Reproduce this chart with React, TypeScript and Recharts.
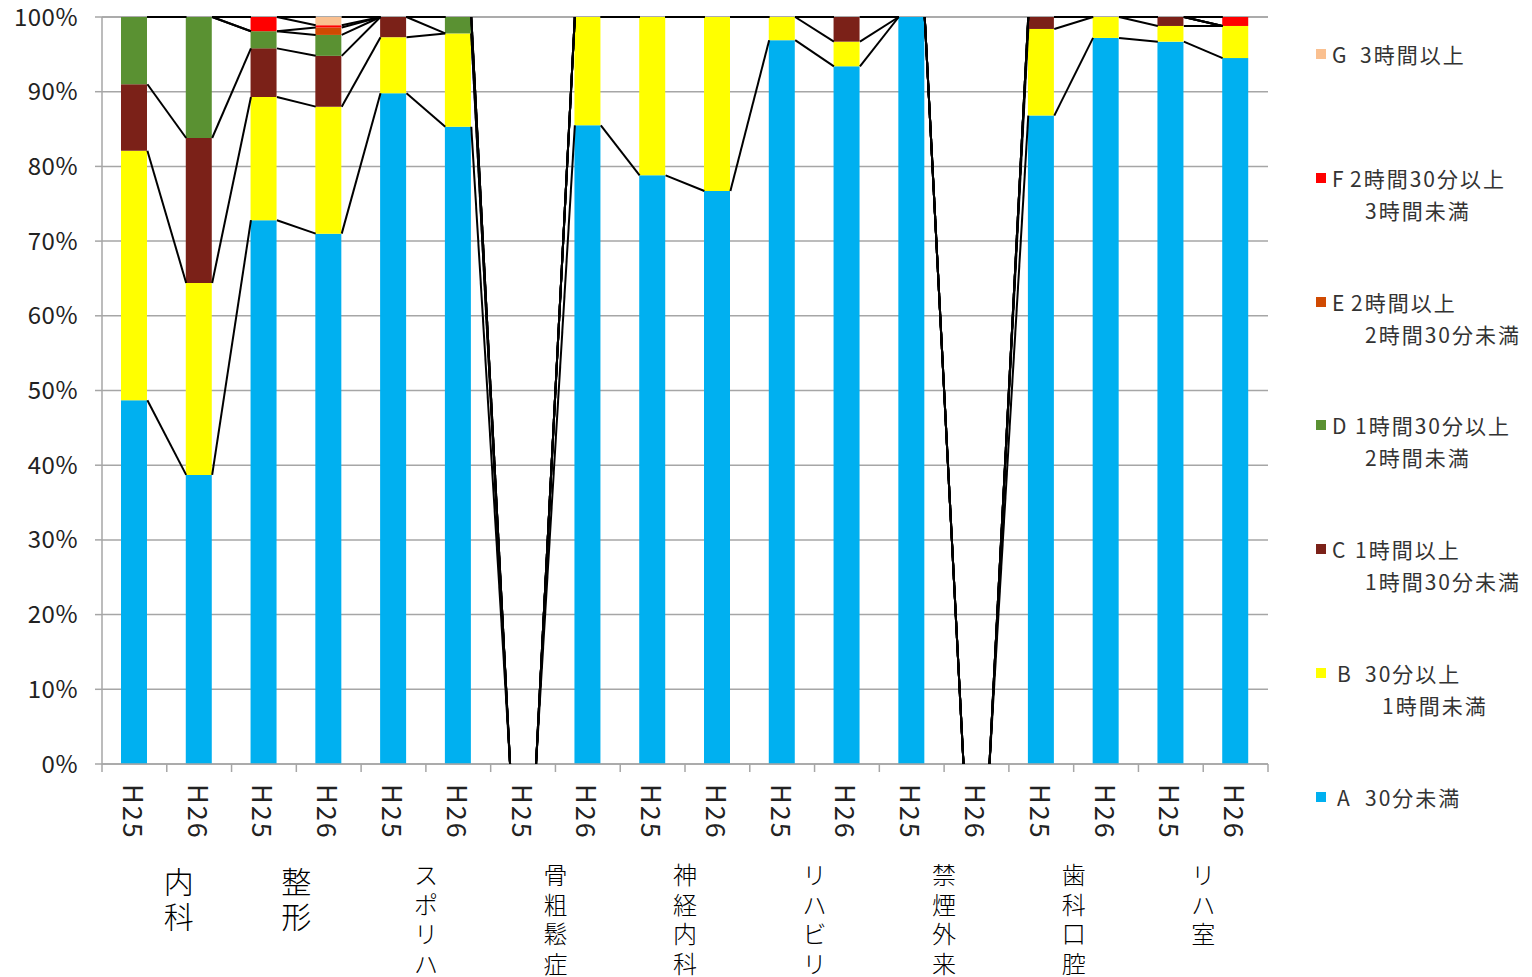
import { BarChart, Bar, XAxis, YAxis, CartesianGrid, Legend } from 'recharts';

const categories = ['H25', 'H26', 'H25', 'H26', 'H25', 'H26', 'H25', 'H26', 'H25', 'H26', 'H25', 'H26', 'H25', 'H26', 'H25', 'H26', 'H25', 'H26'];
const groupNames = ['内科', '整形', 'スポリハ', '骨粗鬆症', '神経内科', 'リハビリ', '禁煙外来', '歯科口腔', 'リハ室'];

// percentages per bar (each bar sums to 100, empty bars are 0)
const seriesA = [48.7, 38.7, 72.8, 71.0, 89.8, 85.3, 0, 85.5, 78.8, 76.7, 96.9, 93.4, 100, 0, 86.8, 97.2, 96.7, 94.5];
const seriesB = [33.4, 25.7, 16.5, 17.0, 7.5, 12.5, 0, 14.5, 21.2, 23.3, 3.1, 3.3, 0, 0, 11.6, 2.8, 2.1, 4.3];
const seriesC = [8.9, 19.4, 6.5, 6.8, 2.7, 0, 0, 0, 0, 0, 0, 3.3, 0, 0, 1.6, 0, 1.2, 0];
const seriesD = [9.0, 16.2, 2.3, 2.8, 0, 2.2, 0, 0, 0, 0, 0, 0, 0, 0, 0, 0, 0, 0];
const seriesE = [0, 0, 0, 1.0, 0, 0, 0, 0, 0, 0, 0, 0, 0, 0, 0, 0, 0, 0];
const seriesF = [0, 0, 1.9, 0.3, 0, 0, 0, 0, 0, 0, 0, 0, 0, 0, 0, 0, 0, 1.2];
const seriesG = [0, 0, 0, 1.1, 0, 0, 0, 0, 0, 0, 0, 0, 0, 0, 0, 0, 0, 0];

const seriesKeys = ['A', 'B', 'C', 'D', 'E', 'F', 'G'];
const seriesValues = [seriesA, seriesB, seriesC, seriesD, seriesE, seriesF, seriesG];
const seriesColors = ['#00B0F0', '#FFFF00', '#7B2118', '#5A9132', '#D04A02', '#FF0000', '#FAC090'];
const legendDesc = ['30分未満', '30分以上', '1時間以上', '1時間30分以上', '2時間以上', '2時間30分以上', '3時間以上'];
const legendLine2 = ['', '1時間未満', '1時間30分未満', '2時間未満', '2時間30分未満', '3時間未満', ''];
const yTicks = [0, 10, 20, 30, 40, 50, 60, 70, 80, 90, 100];

const data = categories.map((name, i) => {
  const row: any = { name };
  seriesKeys.forEach((k, s) => { row[k] = seriesValues[s][i]; });
  return row;
});

// running totals for the Excel-style series lines
const cumulative = seriesKeys.map((_, k) =>
  categories.map((_, i) => seriesValues.slice(0, k + 1).reduce((sum, arr) => sum + arr[i], 0))
);

const W = 1516;
const H = 969;
const MARGIN = { top: 9, right: 256, bottom: 0, left: 0 };
const Y_AXIS_W = 94;
const BAR_W = 26;
const PLOT_W = W - MARGIN.left - MARGIN.right - Y_AXIS_W;
const PLOT_H = 747;
const PLOT_BOTTOM = MARGIN.top + PLOT_H;
const STEP = PLOT_W / categories.length;
const FONT = '"Noto Sans CJK JP", "Noto Sans", sans-serif';
const AXIS_GRAY = '#A6A6A6';

const yPix = (v: number) => MARGIN.top + PLOT_H * (1 - v / 100);

function CategoryTick(props: any) {
  const { x, payload } = props;
  const i = payload.index;
  const ty = PLOT_BOTTOM + 20;
  const isFirst = i % 2 === 0;
  const g = Math.floor(i / 2);
  const group = groupNames[g];
  const big = g < 2;
  const fs = big ? 30 : 24;
  const gap = big ? 35 : 29.5;
  const gy = big ? 872 : 865;
  const gx = x + STEP / 2 + (g === 0 ? 12 : 0);
  return (
    <g>
      {i < categories.length - 1 &&
        cumulative.map((cum, k) => (
          <line
            key={k}
            x1={x + BAR_W / 2}
            y1={yPix(cum[i])}
            x2={x + STEP - BAR_W / 2}
            y2={yPix(cum[i + 1])}
            stroke="#000"
            strokeWidth={2}
          />
        ))}
      <line x1={x - STEP / 2} y1={PLOT_BOTTOM} x2={x - STEP / 2} y2={PLOT_BOTTOM + 8} stroke={AXIS_GRAY} strokeWidth={1.5} />
      {i === categories.length - 1 && (
        <line x1={x + STEP / 2} y1={PLOT_BOTTOM} x2={x + STEP / 2} y2={PLOT_BOTTOM + 8} stroke={AXIS_GRAY} strokeWidth={1.5} />
      )}
      <text
        x={x}
        y={ty}
        transform={`rotate(90, ${x}, ${ty})`}
        dominantBaseline="central"
        textAnchor="start"
        fontSize={27}
        letterSpacing={2}
        fontFamily={FONT}
        fill="#222"
      >
        {payload.value}
      </text>
      {isFirst && (
        <text
          x={gx}
          y={gy}
          textAnchor="middle"
          dominantBaseline="central"
          fontSize={fs}
          fontFamily={FONT}
          fontWeight={300}
          fill="#000"
        >
          {group.split('').map((ch, c) => (
            <tspan key={c} x={gx} dy={c === 0 ? 0 : gap}>
              {ch}
            </tspan>
          ))}
        </text>
      )}
    </g>
  );
}

function LegendBlock() {
  const order = [6, 5, 4, 3, 2, 1, 0];
  // left offsets (px, relative to the marker) of letter, first-line text and second line
  const letterLeft = [21, 21, 16, 16, 16, 16, 16];
  const descLeft = [49, 49, 39, 39, 35, 34, 44];
  const line2Left = [49, 66, 49, 49, 49, 49, 49];
  return (
    <div style={{ position: 'relative', width: 216, height: 820, fontFamily: FONT, fontSize: 21, color: '#333', letterSpacing: 2 }}>
      {order.map((s, r) => {
        const top = 46 - 16 + r * 123.8;
        return (
          <div key={s}>
            <span style={{ position: 'absolute', left: 0, top: top + 11, width: 10, height: 10, background: seriesColors[s] }} />
            <span style={{ position: 'absolute', left: letterLeft[s], top, lineHeight: '32px', letterSpacing: 0 }}>{seriesKeys[s]}</span>
            <span style={{ position: 'absolute', left: descLeft[s], top, lineHeight: '32px', whiteSpace: 'nowrap' }}>{legendDesc[s]}</span>
            {legendLine2[s] && (
              <span style={{ position: 'absolute', left: line2Left[s], top: top + 32, lineHeight: '32px', whiteSpace: 'nowrap' }}>
                {legendLine2[s]}
              </span>
            )}
          </div>
        );
      })}
    </div>
  );
}

export default function App() {
  return (
    <div style={{ width: W, height: H }}>
      <BarChart width={W} height={H} data={data} margin={MARGIN} barSize={BAR_W}>
        <CartesianGrid vertical={false} stroke={AXIS_GRAY} strokeWidth={1.5} />
        <XAxis
          dataKey="name"
          height={H - PLOT_BOTTOM}
          interval={0}
          tickLine={false}
          axisLine={{ stroke: AXIS_GRAY, strokeWidth: 1.5 }}
          tick={<CategoryTick />}
        />
        <YAxis
          width={Y_AXIS_W}
          domain={[0, 100]}
          ticks={yTicks}
          interval={0}
          tickFormatter={(v) => `${v}%`}
          tick={{ fontSize: 24, fill: '#222', fontFamily: FONT, letterSpacing: 0.5 }}
          tickLine={{ stroke: AXIS_GRAY, strokeWidth: 1.5 }}
          tickSize={7}
          tickMargin={17}
          axisLine={{ stroke: AXIS_GRAY, strokeWidth: 1.5 }}
        />
        <Legend
          layout="vertical"
          align="center"
          verticalAlign="middle"
          wrapperStyle={{ left: 1308, top: 0, width: 216 }}
          content={() => <LegendBlock />}
        />
        {seriesKeys.map((k, s) => (
          <Bar key={k} dataKey={k} name={k} stackId="share" fill={seriesColors[s]} isAnimationActive={false} />
        ))}
      </BarChart>
    </div>
  );
}
